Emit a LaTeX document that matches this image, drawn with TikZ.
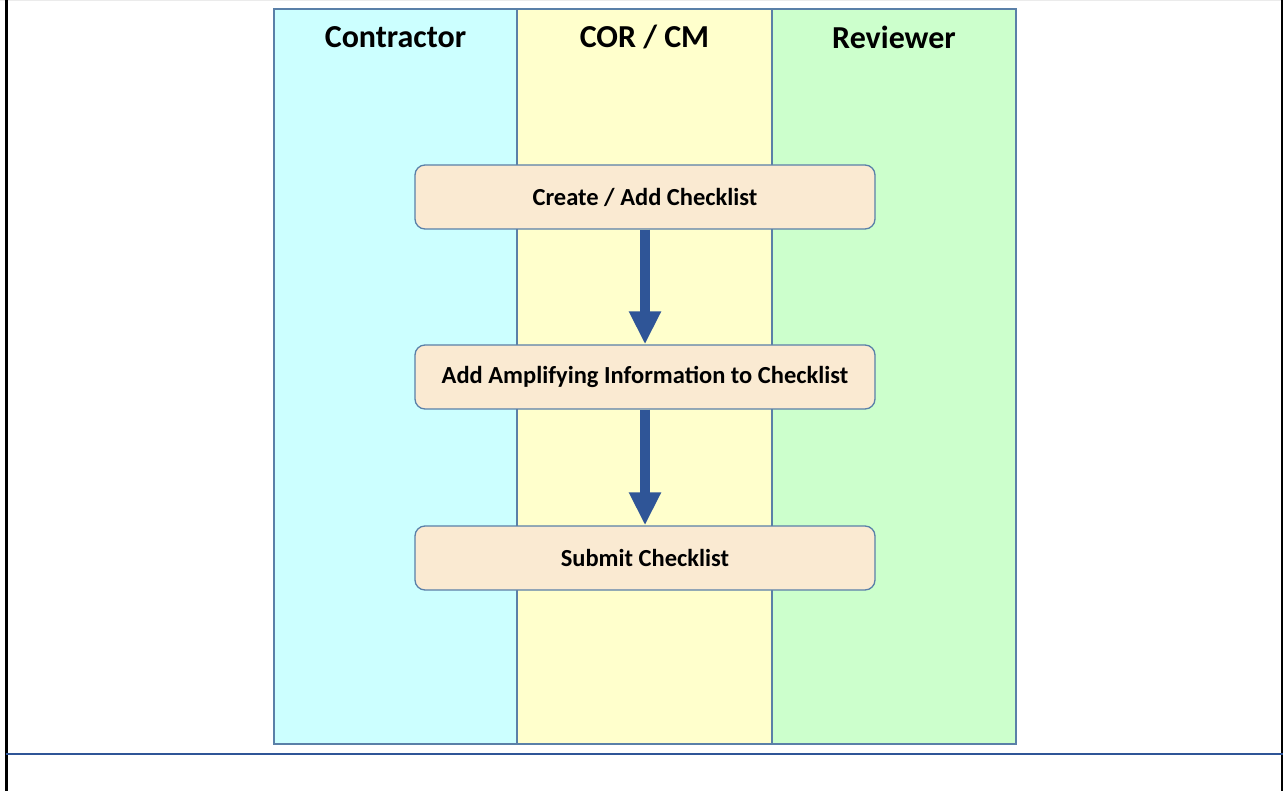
\documentclass[tikz,border=0pt]{standalone}
\usepackage{fontspec}
\setmainfont{Carlito}
\usetikzlibrary{arrows.meta}
\definecolor{laneline}{HTML}{5A80A8}
\definecolor{arrowblue}{HTML}{2F5597}
\definecolor{boxfill}{HTML}{FAEAD2}
\tikzset{
  lane/.style={draw=laneline,line width=1.8pt},
  lanehead/.style={font=\bfseries\fontsize{32}{34}\selectfont},
  task/.style={draw=laneline,line width=1.3pt,fill=boxfill,rounded corners=10pt,
    minimum width=460pt,minimum height=64pt,font=\bfseries\fontsize{24.5}{28}\selectfont},
  flow/.style={draw=arrowblue,line width=10pt,-{Triangle[width=30pt,length=33pt]}}
}
\begin{document}
\begin{tikzpicture}[x=1pt,y=-1pt]
    \useasboundingbox(0,0)rectangle(1283,791);
    \draw[black!8,line width=2pt](0,0)--(1283,0);
    \draw[line width=3pt](6,0)--(6,791);
    \draw[line width=3pt](1282,0)--(1282,791);
    \draw[arrowblue,line width=2.2pt](6,754)--(1283,754);
    \draw[lane,fill={rgb,255:red,204;green,255;blue,255}](274,9)rectangle(517,744);
    \draw[lane,fill={rgb,255:red,255;green,255;blue,204}](517,9)rectangle(772,744);
    \draw[lane,fill={rgb,255:red,204;green,255;blue,204}](772,9)rectangle(1016,744);
    \node[lanehead](contractor)at(395.5,37){Contractor};
    \node[lanehead](corcm)at(644.5,37){COR / CM};
    \node[lanehead](reviewer)at(894,37){Reviewer};
    \node[task](create)at(645,197){Create / Add Checklist};
    \node[task](amplify)at(645,377){Add Amplifying Information to Checklist};
    \node[task](submit)at(645,558){Submit Checklist};
    \draw[flow](create)--(amplify);
    \draw[flow](amplify)--(submit);
\end{tikzpicture}
\end{document}
